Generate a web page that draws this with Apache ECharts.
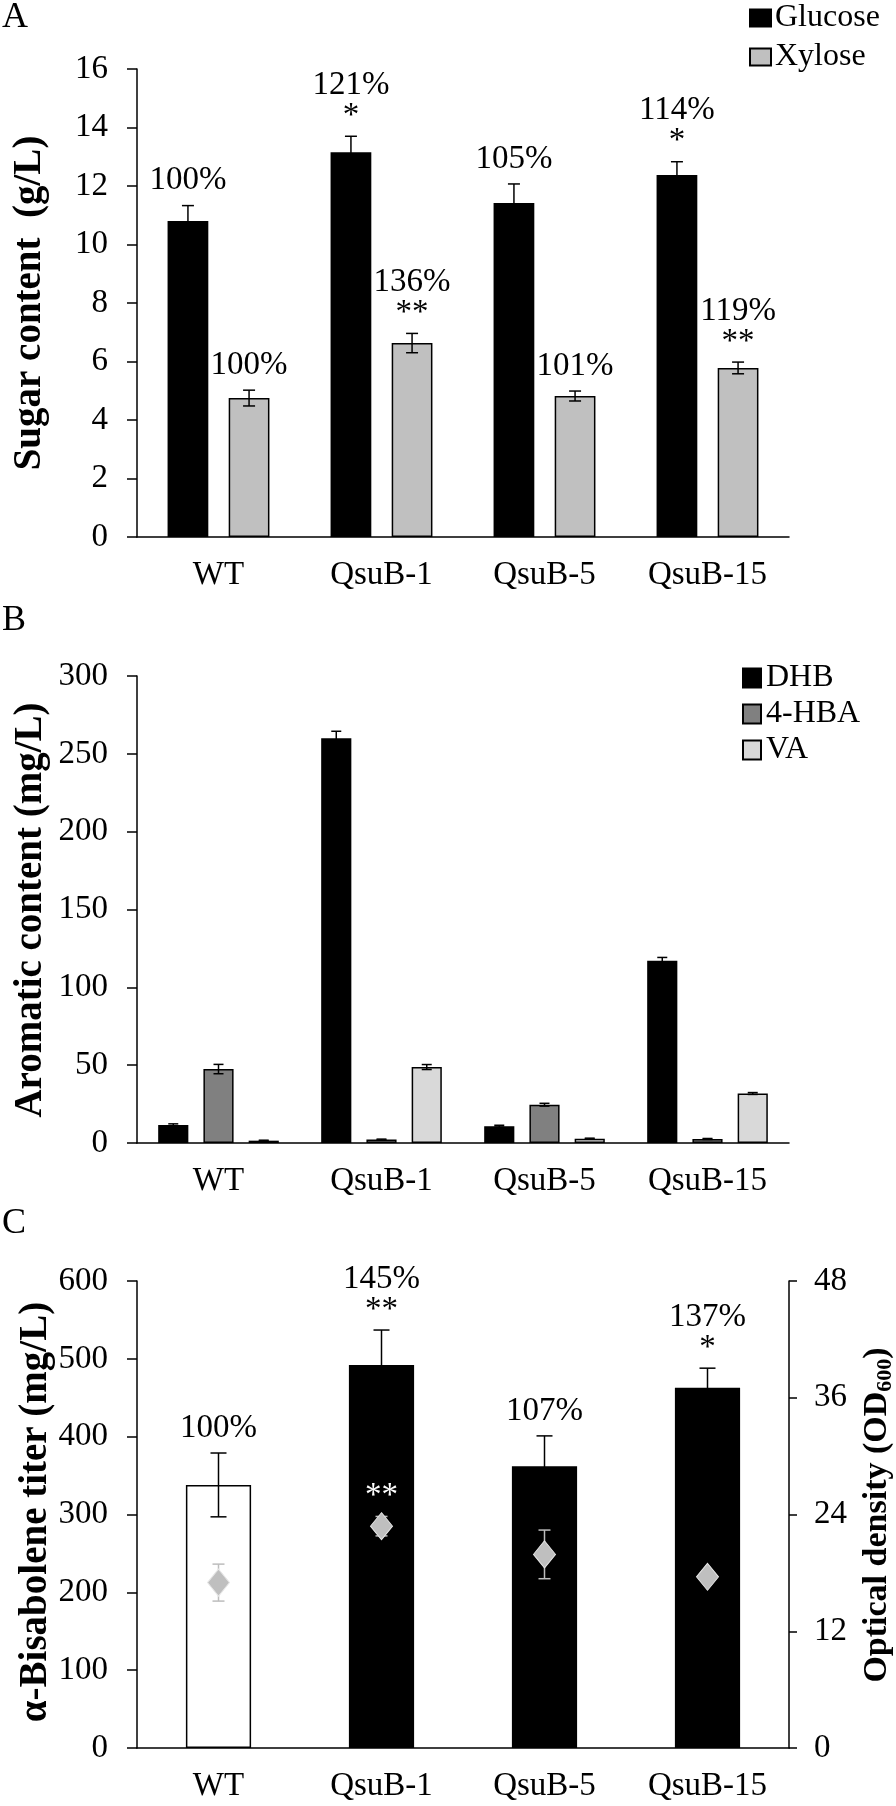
<!DOCTYPE html>
<html>
<head>
<meta charset="utf-8">
<title>Sugar, aromatic and bisabolene content</title>
<script src="https://cdn.jsdelivr.net/npm/echarts@6.0.0/dist/echarts.min.js"></script>
<style>
    body { margin: 0; background: #fff; }
    #chart { width: 896px; height: 1806px; }
</style>
</head>
<body>
<div id="chart"></div>
<script>
var categories = ['WT', 'QsuB-1', 'QsuB-5', 'QsuB-15'];

// A - sugar content (g/L)
var glucose = [10.8, 13.15, 11.42, 12.38];
var glucoseErr = [0.53, 0.55, 0.65, 0.45];
var glucosePct = ['100%', '121%', '105%', '114%'];
var glucoseSig = ['', '*', '', '*'];
var xylose = [4.75, 6.63, 4.82, 5.78];
var xyloseErr = [0.27, 0.33, 0.17, 0.2];
var xylosePct = ['100%', '136%', '101%', '119%'];
var xyloseSig = ['', '**', '', '**'];

// B - aromatic content (mg/L)
var dhb = [11.5, 260, 10.8, 117];
var dhbErr = [0.8, 4.5, 0.6, 2.2];
var hba = [47.5, 2.2, 24.6, 2.6];
var hbaErr = [3, 0.3, 0.9, 0.3];
var va = [1.5, 48.8, 2.8, 31.8];
var vaErr = [0.3, 1.6, 0.3, 0.6];

// C - bisabolene titer (mg/L) and OD600
var titer = [338, 492, 362, 463];
var titerErr = [41, 45, 39, 25];
var titerPct = ['100%', '145%', '107%', '137%'];
var titerSig = ['', '**', '', '*'];
var od = [17.0, 22.8, 19.9, 17.6];
var odErr = [1.9, 1.0, 2.5, 0.3];
var odSig = ['', '**', '', ''];

var FONT = '"Liberation Serif", "Times New Roman", serif';
var chart = echarts.init(document.getElementById('chart'));

// error bar (+ optional labels) drawn on top of a bar, through the axis scales
function errSeries(xi, yi, vals, errs, nBars, idx, wFrac, gapFrac, cfg) {
    return {
        type: 'custom',
        xAxisIndex: xi,
        yAxisIndex: yi,
        z: cfg.z || 3,
        silent: true,
        data: vals.map(function (v, i) { return [i, v, errs[i]]; }),
        encode: { x: 0, y: 1 },
        renderItem: function (params, api) {
            var ci = api.value(0), v = api.value(1), e = api.value(2);
            var band = api.size([1, 0])[0];
            var bw = band * wFrac;
            var total = nBars * bw + (nBars - 1) * bw * gapFrac;
            var off = -total / 2 + bw / 2 + idx * bw * (1 + gapFrac);
            var top = api.coord([ci, v + e]);
            var bot = api.coord([ci, v - e]);
            var x = top[0] + off;
            var c = cfg.cap;
            var ls = { stroke: cfg.color || '#000', lineWidth: 1.5 };
            var kids = [
                { type: 'line', shape: { x1: x, y1: top[1], x2: x, y2: bot[1] }, style: ls },
                { type: 'line', shape: { x1: x - c, y1: top[1], x2: x + c, y2: top[1] }, style: ls },
                { type: 'line', shape: { x1: x - c, y1: bot[1], x2: x + c, y2: bot[1] }, style: ls }
            ];
            var i = params.dataIndex;
            var sig = cfg.sig ? cfg.sig[i] : '';
            var y = top[1];
            if (sig) {
                y = y - 20;
                kids.push({ type: 'text', style: { text: sig, x: x, y: y, align: 'center', verticalAlign: 'middle',
                    font: '33px ' + FONT, fill: cfg.sigColor || '#000' } });
                y = y - 31;
            } else {
                y = y - 25;
            }
            if (cfg.pct) {
                kids.push({ type: 'text', style: { text: cfg.pct[i], x: x, y: y, align: 'center', verticalAlign: 'middle',
                    font: '33px ' + FONT, fill: '#000' } });
            }
            return { type: 'group', children: kids };
        }
    };
}

function catAxis(gi) {
    return {
        type: 'category',
        gridIndex: gi,
        data: categories,
        axisLine: { lineStyle: { color: '#000', width: 1.5 } },
        axisTick: { inside: true, length: 10, lineStyle: { color: '#000', width: 1.5 } },
        axisLabel: { color: '#000', fontFamily: FONT, fontSize: 33, margin: 22 },
        splitLine: { show: false }
    };
}

function valAxis(gi, max, step) {
    return {
        type: 'value',
        gridIndex: gi,
        min: 0, max: max, interval: step,
        axisLine: { show: true, lineStyle: { color: '#000', width: 1.5 } },
        axisTick: { show: true, length: 10, lineStyle: { color: '#000', width: 1.5 } },
        axisLabel: { color: '#000', fontFamily: FONT, fontSize: 33, margin: 29 },
        splitLine: { show: false }
    };
}

// vertical axis titles
function axisTitle(x, y, text, size) {
    return {
        type: 'text', x: x, y: y, rotation: Math.PI / 2,
        style: {
            text: text, align: 'center', verticalAlign: 'middle',
            font: 'bold ' + size + 'px ' + FONT, fill: '#000',
            rich: { sub: { font: 'bold 22px ' + FONT, fill: '#000', padding: [16, 0, 0, 0] } }
        }
    };
}

var rightAxis = valAxis(2, 48, 12);
rightAxis.position = 'right';
rightAxis.axisTick.length = 8;
rightAxis.axisLabel.margin = 25;

var option = {
    backgroundColor: '#fff',
    animation: false,
    title: [
        { text: 'A', left: 2, top: 0, padding: 0, textStyle: { fontFamily: FONT, fontSize: 36, fontWeight: 'normal', color: '#000' } },
        { text: 'B', left: 2, top: 603, padding: 0, textStyle: { fontFamily: FONT, fontSize: 36, fontWeight: 'normal', color: '#000' } },
        { text: 'C', left: 2, top: 1206, padding: 0, textStyle: { fontFamily: FONT, fontSize: 36, fontWeight: 'normal', color: '#000' } }
    ],
    graphic: [
        axisTitle(30, 303, 'Sugar content  (g/L)', 39),
        axisTitle(31, 910, 'Aromatic content (mg/L)', 39),
        axisTitle(36, 1512, 'α-Bisabolene titer (mg/L)', 39),
        axisTitle(877, 1515, 'Optical density (OD{sub|600})', 34)
    ],
    legend: [
        {
            data: ['Glucose', 'Xylose'],
            orient: 'vertical', left: 749, top: 2, padding: 0,
            icon: 'rect', itemWidth: 21, itemHeight: 17, itemGap: 7,
            textStyle: { fontFamily: FONT, fontSize: 32, lineHeight: 32, color: '#000', padding: [0, 0, 0, -1] }
        },
        {
            data: ['DHB', '4-HBA', 'VA'],
            orient: 'vertical', left: 742, top: 662, padding: 0,
            icon: 'rect', itemWidth: 18, itemHeight: 19, itemGap: 4,
            textStyle: { fontFamily: FONT, fontSize: 32, lineHeight: 32, color: '#000' }
        }
    ],
    grid: [
        { left: 137, right: 107, top: 69, height: 468 },
        { left: 137, right: 107, top: 676, height: 467 },
        { left: 137, right: 107, top: 1281, height: 467 }
    ],
    xAxis: [catAxis(0), catAxis(1), catAxis(2)],
    yAxis: [valAxis(0, 16, 2), valAxis(1, 300, 50), valAxis(2, 600, 100), rightAxis],
    series: [
        // A
        { name: 'Glucose', type: 'bar', xAxisIndex: 0, yAxisIndex: 0, data: glucose, barWidth: '25%', barGap: '50%',
            itemStyle: { color: '#000', borderColor: '#000', borderWidth: 1.5 } },
        { name: 'Xylose', type: 'bar', xAxisIndex: 0, yAxisIndex: 0, data: xylose, barWidth: '25%', barGap: '50%',
            itemStyle: { color: '#c0c0c0', borderColor: '#000', borderWidth: 1.5 } },
        errSeries(0, 0, glucose, glucoseErr, 2, 0, 0.25, 0.5, { cap: 6, pct: glucosePct, sig: glucoseSig }),
        errSeries(0, 0, xylose, xyloseErr, 2, 1, 0.25, 0.5, { cap: 6, pct: xylosePct, sig: xyloseSig }),

        // B
        { name: 'DHB', type: 'bar', xAxisIndex: 1, yAxisIndex: 1, data: dhb, barWidth: '18.5%', barGap: '50%',
            itemStyle: { color: '#000', borderColor: '#000', borderWidth: 1.5 } },
        { name: '4-HBA', type: 'bar', xAxisIndex: 1, yAxisIndex: 1, data: hba, barWidth: '18.5%', barGap: '50%',
            itemStyle: { color: '#808080', borderColor: '#000', borderWidth: 1.5 } },
        { name: 'VA', type: 'bar', xAxisIndex: 1, yAxisIndex: 1, data: va, barWidth: '18.5%', barGap: '50%',
            itemStyle: { color: '#d9d9d9', borderColor: '#000', borderWidth: 1.5 } },
        errSeries(1, 1, dhb, dhbErr, 3, 0, 0.185, 0.5, { cap: 5 }),
        errSeries(1, 1, hba, hbaErr, 3, 1, 0.185, 0.5, { cap: 5 }),
        errSeries(1, 1, va, vaErr, 3, 2, 0.185, 0.5, { cap: 5 }),

        // C
        { name: 'Titer', type: 'bar', xAxisIndex: 2, yAxisIndex: 2, barWidth: '40%',
            data: titer.map(function (v, i) {
                return { value: v, itemStyle: { color: i === 0 ? '#fff' : '#000' } };
            }),
            itemStyle: { borderColor: '#000', borderWidth: 1.5 } },
        errSeries(2, 2, titer, titerErr, 1, 0, 0.4, 0, { cap: 8, pct: titerPct, sig: titerSig }),
        errSeries(2, 3, od, odErr, 1, 0, 0.4, 0, { cap: 6, color: '#bdbdbd', sig: odSig, sigColor: '#fff', z: 4 }),
        { name: 'OD600', type: 'scatter', xAxisIndex: 2, yAxisIndex: 3, z: 5,
            data: od.map(function (v, i) { return [i, v]; }),
            symbol: 'diamond', symbolSize: [22, 27],
            itemStyle: { color: '#bfbfbf', borderColor: '#e6e6e6', borderWidth: 1, opacity: 1 } }
    ]
};

chart.setOption(option);
</script>
</body>
</html>
